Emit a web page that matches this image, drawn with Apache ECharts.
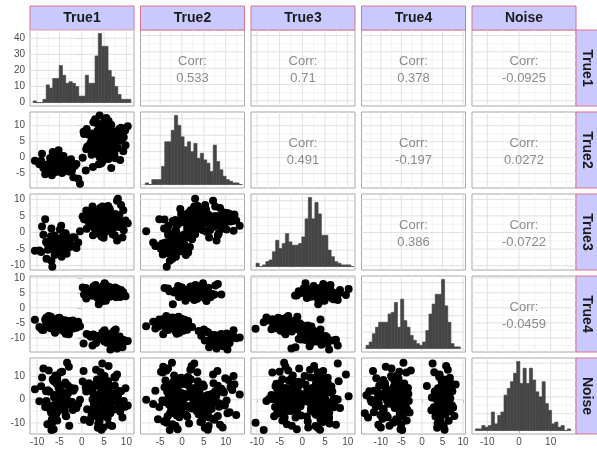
<!DOCTYPE html>
<html>
<head>
<meta charset="utf-8">
<script src="https://cdn.jsdelivr.net/npm/echarts@6/dist/echarts.min.js"></script>
<style>
html, body { margin: 0; padding: 0; background: #ffffff; }
#chart { width: 597px; height: 450px; }
</style>
</head>
<body>
<div id="chart"></div>
<script>
// Variable names (facet strips)
const varNames = ['True1', 'True2', 'True3', 'True4', 'Noise'];

// Observations (one entry per sample, same order in every array)
const true1 = [
  -10.5, -8.2, -6.1, -4.3, -5.7, -3.1, -7.4, -5.0, -2.6, -6.8,
  -4.9, -3.8, -5.5, -7.9, -1.9, -6.3, -4.4, -5.2, -3.4, -8.6,
  -6.0, -4.7, -2.2, -5.9, -7.1, -3.9, -5.4, -6.6, -4.1, -1.2,
  -9.1, -5.8, -3.3, -6.9, -4.6, -2.8, -7.6, -5.1, -4.0, -6.4,
  -0.8, -5.6, -3.6, -7.2, -4.8, -2.4, -6.2, -5.3, -8.9, -3.0,
  -4.5, -6.7, -1.6, -5.0, -7.7, -3.7, -6.0, -4.2, -2.9, -5.7,
  -8.0, -4.9, -6.5, -3.5, -0.4, -5.2, -7.0, -4.4, -2.0, -6.1,
  -9.5, -3.2, -5.5, -4.0, -6.8,
  4.8, 2.1, 6.3, 3.5, 5.6, 7.9, 4.0, 1.2, 5.1, 3.0,
  6.8, 4.4, 2.7, 5.9, 8.6, 3.8, 4.9, 0.5, 6.0, 5.3,
  3.3, 7.2, 4.6, 2.4, 5.5, 9.3, 4.2, 6.6, 1.8, 5.0,
  3.9, 6.1, 4.7, 7.5, 2.9, 5.2, 3.6, 8.1, 4.3, 5.8,
  1.5, 6.4, 4.1, 3.2, 5.7, 7.0, 2.6, 4.5, 6.9, 5.4,
  3.7, 0.9, 5.0, 8.4, 4.6, 2.2, 6.2, 4.9, 3.4, 7.7,
  5.1, 4.0, 9.8, 2.8, 5.9, 3.1, 6.5, 4.4, 1.0, 5.5,
  7.3, 3.5, 4.8, 6.0, 2.0, 5.2, 4.2, 8.8, 3.8, 6.7,
  5.6, 2.5, 4.7, 0.2, 6.3,
  5.9, 3.2, 7.4, 4.6, 8.8, 2.0, 6.3, 5.1, 9.7, 4.0,
  6.8, 1.1, 5.5, 7.9, 3.7, 10.3, 4.9, 6.1, 2.6, 8.2,
  5.3, 7.0, 0.4, 6.6, 4.3, 9.1, 3.0, 5.8, 7.6, 4.8,
  6.0, 2.4, 8.5, 5.0, 3.5, 7.2, 6.4, 1.6, 9.4, 5.6
];
const true2 = [
  -1.0, -5.2, -2.0, 0.3, -2.8, -1.1, -3.6, -0.2, -2.4, -4.1,
  -1.4, -1.7, -0.4, -2.2, -6.1, -1.0, -2.9, 2.3, -1.5, -3.2,
  -0.6, -2.4, -4.0, -1.8, -0.1, -2.7, -1.2, -3.5, 0.5, -2.0,
  -1.0, -4.5, -2.3, -0.8, -3.1, -1.5, -2.9, 0.6, -1.9, -3.8,
  -6.6, 0.1, -1.2, -3.4, -4.4, -0.5, -2.6, -1.8, 1.2, -3.0,
  -1.4, -5.5, -2.6, -0.9, -2.2, -1.9, 1.4, -2.3, -4.3, -1.1,
  -2.7, -1.6, 1.8, -3.3, -8.2, -2.1, -1.3, -4.8, -2.5, 0.9,
  -2.1, -1.6, -3.7, -0.3, -2.8,
  -0.9, 5.0, 2.3, 1.2, 3.7, 7.1, 0.1, 3.4, 4.8, 2.4,
  6.1, 0.4, 2.9, 3.6, -0.7, 4.4, 1.9, 7.4, 2.2, 5.5,
  5.8, 2.7, 1.1, 4.9, 7.6, 2.0, 3.5, -3.2, 4.2, 2.9,
  3.9, 2.6, 5.6, -0.2, 4.1, 1.5, 5.2, 3.0, -1.8, 4.7,
  3.6, 0.2, 5.1, 1.9, 4.4, 6.3, 2.2, -1.5, 3.0, 0.8,
  1.6, -4.0, 3.2, 9.0, 2.8, 0.9, 4.3, 1.0, 2.0, 6.5,
  2.1, 4.6, 3.9, 6.8, 0.6, 3.1, 1.7, 5.9, 2.6, 4.5,
  1.4, 6.0, 3.3, -0.4, 4.0, 8.2, 2.5, 5.3, -2.1, 3.8,
  5.0, -2.9, 3.8, 0.0, 3.3,
  7.7, 10.9, 8.2, 6.0, 9.4, 7.1, 5.2, 11.8, 8.5, 13.2,
  6.6, 9.0, 12.4, 7.9, 10.6, 9.8, 5.6, 8.7, 11.1, 7.3,
  9.6, 4.4, 8.1, 10.2, 7.0, 6.2, 12.0, 8.9, 5.0, 9.3,
  11.5, 7.6, 6.8, 9.9, 8.4, 3.8, 10.4, 7.2, 6.4, 8.0
];
const true3 = [
  -5.5, 4.0, -0.9, -4.8, -5.6, -2.7, -3.1, -3.3, -1.9, 1.2,
  0.9, -3.2, -2.4, -7.9, -4.1, -1.2, -4.9, -2.0, -6.4, -0.7,
  -3.9, -2.2, -4.2, -2.1, -3.8, -1.0, -5.1, -10.3, -0.6, -4.7,
  -5.9, -3.3, -4.0, -1.1, 2.0, -2.3, -5.2, -3.8, -0.4, -3.0,
  -3.0, -5.7, -0.3, -4.3, -6.6, -1.7, -3.5, -2.6, 1.8, -4.6,
  -7.3, -4.0, -1.5, -5.3, -3.4, -0.2, -6.0, -2.8, -3.7, -4.5,
  -2.9, -1.8, -4.4, -6.2, 0.4, -3.6, -2.5, -5.0, -1.4, -6.8,
  -5.4, -2.2, -4.4, -1.6, -8.5,
  2.5, 6.4, 3.7, 1.0, 4.8, 9.6, 3.2, 5.8, 0.7, 4.3,
  2.9, -1.2, 4.7, 8.0, 3.3, 1.1, 5.5, 4.0, 2.6, 6.9,
  4.1, 1.5, 5.6, 2.8, 4.9, 6.7, 3.4, 0.3, 4.5, 2.2,
  6.3, 2.8, 4.1, 5.6, 1.2, 4.5, 3.4, 10.2, 3.0, 5.9,
  4.4, 3.5, 7.4, 1.7, 5.3, 2.3, 6.1, 3.8, -0.5, 4.9,
  6.0, 3.9, 1.8, 5.2, 7.8, 3.0, 4.4, -1.6, 5.0, 4.6,
  0.0, 5.7, 3.6, 2.4, 5.0, 6.2, 1.3, 3.9, 6.6, 4.2,
  3.1, 5.4, 4.0, 7.1, 2.0, 4.6, 2.7, 8.3, 3.5, 5.1,
  3.6, -0.8, 5.4, 4.8, 1.9,
  2.4, 5.6, -0.8, 3.9, 1.6, 4.8, 6.9, 0.5, 3.1, 2.0,
  4.2, 1.1, 3.6, -2.4, 5.1, 2.8, 0.2, 7.4, 3.3, 1.7,
  6.0, 2.9, 4.6, 0.9, 3.8, -1.5, 5.4, 2.2, 4.0, 1.3,
  3.5, 7.8, 1.9, 4.4, -0.3, 2.6, 5.9, 3.0, 0.7, 4.9
];
const true4 = [
  -4.0, -3.9, -6.0, -7.6, -4.8, -5.3, -2.7, -6.5, -4.4, -5.9,
  -6.2, -4.1, -5.7, -3.2, -6.9, -5.2, -4.7, -6.4, -5.6, -7.4,
  -8.3, -4.9, -5.4, -6.1, -3.6, -5.8, -4.3, -7.0, -5.1, -6.6,
  -6.8, -5.5, -4.5, -3.0, -6.2, -7.9, -5.0, -4.0, -5.9, -6.7,
  -4.6, -5.3, -8.6, -6.0, -3.8, -5.2, -6.5, -4.9, -7.3, -5.7,
  -4.2, -6.3, -5.0, -3.3, -5.0, -5.6, -4.4, -6.1, -8.8, -5.4,
  -4.7, -5.8, -6.3, -4.6, -6.1, -3.4, -6.8, -5.5, -4.2, -7.1,
  -6.4, -5.5, -3.7, -6.9, -4.8,
  7.3, 4.7, 5.4, 3.3, 6.1, 4.3, 5.9, 4.8, 8.2, 5.0,
  5.3, 4.1, 6.2, 4.8, 3.6, 5.7, 7.0, 4.4, 5.9, 2.9,
  6.2, 4.7, 5.8, 4.0, 7.4, 5.2, 3.0, 6.4, 4.6, 5.5,
  4.9, 5.2, 2.3, 6.8, 4.5, 5.6, 3.7, 6.3, 5.1, 4.0,
  4.8, 5.4, 3.4, 6.3, 5.1, 4.3, 7.1, 5.7, 4.9, 2.4,
  3.8, 6.6, 5.1, 4.4, 2.6, 5.7, 6.9, 4.1, 5.3, 3.5,
  5.0, 6.5, 3.9, 4.6, 5.8, 7.6, 4.2, 5.5, 3.1, 6.0,
  4.2, 6.7, 5.0, 3.9, 5.6, 7.9, 4.5, 5.9, 1.2, 6.1,
  6.0, 5.5, 4.6, 6.8, 3.7,
  -9.1, -11.7, -10.4, -8.2, -12.8, -9.6, -10.9, -7.5, -11.2, -9.9,
  -12.3, -8.7, -10.1, -13.5, -9.4, -11.0, -7.9, -10.6, -8.9, -12.0,
  -10.8, -9.3, -11.9, -8.5, -10.3, -13.1, -9.7, -11.4, -7.2, -10.0,
  -8.8, -12.5, -9.5, -11.1, -10.5, -7.7, -13.9, -9.0, -10.7, -11.6
];
const noise = [
  4.5, -3.2, 7.8, 0.9, -6.1, 2.7, 12.6, -1.5, 5.3, -9.4,
  1.8, -4.7, 9.1, -0.6, 3.9, -12.8, 6.4, -2.3, 0.2, 13.5,
  -7.6, 3.1, -1.0, 10.4, -4.2, 1.4, 7.0, -9.9, 2.2, -3.6,
  5.8, -0.3, 15.9, -5.5, 2.9, -11.2, 4.1, 0.7, -2.8, 8.3,
  -1.9, 6.9, -6.8, 3.4, 11.7, -0.9, 1.1, -4.9, 9.6, -2.1,
  0.4, -8.4, 4.8, 2.5, -10.6, 7.4, -3.1, 1.6, 14.2, -5.9,
  3.6, -1.3, 8.8, -7.1, 0.0, 5.1, -2.6, 12.1, -4.4, 2.0,
  -0.7, 6.2, -9.0, 3.0, -13.1,
  -2.4, 5.7, 0.8, -7.3, 3.2, 10.9, -0.5, -4.1, 6.6, 1.3,
  -11.4, 2.6, -1.8, 8.0, -5.2, 0.1, 4.0, -8.7, 14.6, -3.3,
  1.9, -0.2, 7.3, -6.0, 3.7, -2.9, 11.8, 0.5, -9.6, 5.0,
  -1.2, 2.8, -4.6, 9.5, -0.8, 6.1, -12.1, 1.5, 3.3, -7.9,
  4.6, -2.0, 0.3, 12.9, -5.7, 2.1, -3.8, 7.6, -0.4, 1.0,
  -10.3, 5.4, -1.6, 3.8, 15.6, -6.5, 0.6, -2.7, 8.7, -4.0,
  2.4, -9.1, 4.9, -0.1, 6.8, -3.4, 1.7, -13.0, 3.5, -1.4,
  9.8, -5.0, 0.9, -2.2, 4.3, -7.0, 2.0, -3.6, 5.9, 0.0,
  -1.0, 3.0, -6.3, 7.9, -4.8,
  1.2, -5.4, 6.0, -1.7, 3.6, -8.2, 0.4, 10.2, -3.0, 2.3,
  -0.9, 4.7, -6.6, 1.9, 8.5, -2.5, 0.7, -10.8, 5.5, -1.1,
  3.1, -4.3, 12.4, -0.3, 2.6, -7.7, 6.7, -2.0, 1.5, -12.0,
  4.2, 0.1, -3.9, 9.3, -1.5, 2.8, -5.8, 7.1, -0.6, 3.9
];

// Histogram counts, 30 bins per variable
const histTrue1 = [1, 0, 0, 2, 11, 9, 15, 15, 23, 17, 12, 13, 12, 10, 4, 4, 17, 12, 12, 29, 43, 35, 35, 20, 16, 10, 5, 2, 2, 2];
const histTrue2 = [1, 0, 3, 3, 3, 11, 26, 26, 33, 42, 36, 29, 23, 26, 20, 25, 16, 19, 15, 13, 8, 24, 14, 9, 5, 3, 2, 1, 1, 0];
const histTrue3 = [2, 0, 1, 3, 4, 9, 16, 11, 14, 20, 15, 13, 13, 14, 18, 29, 42, 29, 39, 32, 19, 19, 10, 6, 3, 2, 1, 1, 1, 0];
const histTrue4 = [2, 4, 9, 13, 16, 16, 16, 21, 22, 28, 13, 30, 17, 13, 8, 5, 3, 2, 4, 11, 21, 27, 33, 33, 42, 26, 16, 3, 1, 1];
const histNoise = [1, 1, 3, 2, 3, 11, 4, 9, 11, 21, 25, 29, 34, 41, 28, 37, 28, 37, 30, 23, 20, 29, 16, 12, 4, 5, 2, 3, 0, 1];
// First bin edge and bin width for each variable
const binStart = [-10.9, -8.4, -10.2, -13.6, -13.7];
const binWidth = [0.73, 0.74, 0.72, 0.765, 1.0];

// Pairwise correlations (upper triangle, by row)
const corrTrue1 = [0.533, 0.71, 0.378, -0.0925];
const corrTrue2 = [0.491, -0.197, 0.0272];
const corrTrue3 = [0.386, -0.0722];
const corrTrue4 = [-0.0459];

// Axis limits and breaks for each variable
const axisMin = [-11.6, -9.5, -11.3, -14.7, -14.8];
const axisMax = [11.7, 14.3, 11.6, 10.6, 18.0];
const majorBreaks = [[-10, -5, 0, 5, 10], [-5, 0, 5, 10], [-10, -5, 0, 5, 10], [-10, -5, 0, 5, 10], [-10, 0, 10]];
const minorBreaks = [[-7.5, -2.5, 2.5, 7.5], [-7.5, -2.5, 2.5, 7.5, 12.5], [-7.5, -2.5, 2.5, 7.5], [-12.5, -7.5, -2.5, 2.5, 7.5], [-5, 5, 15]];
const countBreaks = [0, 10, 20, 30, 40];
const countMinor = [5, 15, 25, 35, 45];

// ---- layout ----
const FONT = '"Liberation Sans", Arial, Helvetica, sans-serif';
const panelLeft = [30, 140.5, 251, 361.5, 472];
const panelTop = [30, 112, 194, 276, 358];
const panelW = 104, panelH = 76;
const stripH = 24, stripW = 24;
const stripFill = '#c9c9ff', stripLine = '#dd7088';
const borderCol = '#a8a8a8';

const obs = [true1, true2, true3, true4, noise];
const hists = [histTrue1, histTrue2, histTrue3, histTrue4, histNoise];
const corrs = [corrTrue1, corrTrue2, corrTrue3, corrTrue4];

function countRange(counts) {
  const m = Math.max.apply(null, counts);
  return [-0.05 * m, 1.05 * m];
}

const grid = [], xAxis = [], yAxis = [], series = [];

for (let r = 0; r < 5; r++) {
  for (let c = 0; c < 5; c++) {
    const gi = grid.length;
    const diag = r === c;
    const xr = [axisMin[c], axisMax[c]];
    const yr = diag ? countRange(hists[c]) : [axisMin[r], axisMax[r]];
    const xMaj = majorBreaks[c], xMin = minorBreaks[c];
    const yMaj = diag ? countBreaks : majorBreaks[r];
    const yMin = diag ? countMinor : minorBreaks[r];
    const showX = r === 4, showY = c === 0;

    grid.push({
      left: panelLeft[c], top: panelTop[r], width: panelW, height: panelH,
      show: true, backgroundColor: '#ffffff', borderColor: borderCol, borderWidth: 1
    });
    xAxis.push({
      gridIndex: gi, type: 'value', min: xr[0], max: xr[1],
      axisLine: { show: false }, splitLine: { show: false },
      axisTick: { show: showX, customValues: xMaj, length: 3, lineStyle: { color: borderCol } },
      axisLabel: { show: showX, customValues: xMaj, color: '#4d4d4d', fontSize: 10, fontFamily: FONT, margin: 3 }
    });
    yAxis.push({
      gridIndex: gi, type: 'value', min: yr[0], max: yr[1],
      axisLine: { show: false }, splitLine: { show: false },
      axisTick: { show: showY, customValues: yMaj, length: 4, lineStyle: { color: borderCol } },
      axisLabel: { show: showY, customValues: yMaj, color: '#4d4d4d', fontSize: 10, fontFamily: FONT, margin: 5 }
    });

    // panel grid lines
    series.push({
      type: 'custom', xAxisIndex: gi, yAxisIndex: gi, silent: true, z: 1,
      data: [[xr[0], yr[0]]],
      renderItem: function (params, api) {
        const kids = [];
        const add = function (a, b, col, w) {
          kids.push({ type: 'line', shape: { x1: a[0], y1: a[1], x2: b[0], y2: b[1] }, style: { stroke: col, lineWidth: w } });
        };
        xMin.forEach(function (v) { add(api.coord([v, yr[0]]), api.coord([v, yr[1]]), '#efefef', 0.8); });
        yMin.forEach(function (v) { if (v < yr[1]) add(api.coord([xr[0], v]), api.coord([xr[1], v]), '#efefef', 0.8); });
        xMaj.forEach(function (v) { add(api.coord([v, yr[0]]), api.coord([v, yr[1]]), '#e0e0e0', 1); });
        yMaj.forEach(function (v) { add(api.coord([xr[0], v]), api.coord([xr[1], v]), '#e0e0e0', 1); });
        return { type: 'group', children: kids };
      }
    });

    if (diag) {
      const counts = hists[c];
      const bins = counts.map(function (n, i) {
        return [binStart[c] + i * binWidth[c], binStart[c] + (i + 1) * binWidth[c], n];
      });
      series.push({
        type: 'custom', xAxisIndex: gi, yAxisIndex: gi, silent: true, z: 2,
        encode: { x: [0, 1], y: 2 },
        data: bins,
        renderItem: function (params, api) {
          const p0 = api.coord([api.value(0), api.value(2)]);
          const p1 = api.coord([api.value(1), 0]);
          return {
            type: 'rect',
            shape: { x: p0[0], y: p0[1], width: p1[0] - p0[0], height: p1[1] - p0[1] },
            style: { fill: '#454545', stroke: '#454545', lineWidth: 0.6 }
          };
        }
      });
    } else if (r > c) {
      series.push({
        type: 'scatter', xAxisIndex: gi, yAxisIndex: gi, silent: true, z: 3,
        symbolSize: 8, itemStyle: { color: '#000000', opacity: 1 },
        data: obs[c].map(function (v, i) { return [v, obs[r][i]]; })
      });
    } else {
      const val = corrs[r][c - r - 1];
      series.push({
        type: 'scatter', xAxisIndex: gi, yAxisIndex: gi, silent: true, z: 3,
        symbolSize: 1, itemStyle: { color: 'rgba(0,0,0,0)' },
        label: {
          show: true, position: 'inside', formatter: 'Corr:\n' + String(val),
          color: '#6e6e6e', fontSize: 13, lineHeight: 17, fontFamily: FONT, offset: [0, 2]
        },
        data: [[(xr[0] + xr[1]) / 2, (yr[0] + yr[1]) / 2]]
      });
    }
  }
}

// facet strips: column labels on top, row labels on the right
const graphic = [];
varNames.forEach(function (name, i) {
  graphic.push({
    type: 'rect', shape: { x: panelLeft[i], y: panelTop[0] - stripH, width: panelW, height: stripH },
    style: { fill: stripFill, stroke: stripLine, lineWidth: 1 }
  });
  graphic.push({
    type: 'text', x: panelLeft[i] + panelW / 2, y: panelTop[0] - stripH / 2,
    style: { text: name, align: 'center', verticalAlign: 'middle', fill: '#1a1a1a', font: 'bold 14px ' + FONT }
  });
  const sx = panelLeft[4] + panelW;
  graphic.push({
    type: 'rect', shape: { x: sx, y: panelTop[i], width: stripW, height: panelH },
    style: { fill: stripFill, stroke: stripLine, lineWidth: 1 }
  });
  graphic.push({
    type: 'text', x: sx + 10.5, y: panelTop[i] + panelH / 2, rotation: -Math.PI / 2,
    style: { text: name, align: 'center', verticalAlign: 'middle', fill: '#1a1a1a', font: 'bold 14px ' + FONT }
  });
});

const chart = echarts.init(document.getElementById('chart'), null, { renderer: 'canvas', width: 597, height: 450 });
chart.setOption({
  animation: false,
  backgroundColor: '#ffffff',
  grid: grid,
  xAxis: xAxis,
  yAxis: yAxis,
  series: series,
  graphic: graphic
});
</script>
</body>
</html>
